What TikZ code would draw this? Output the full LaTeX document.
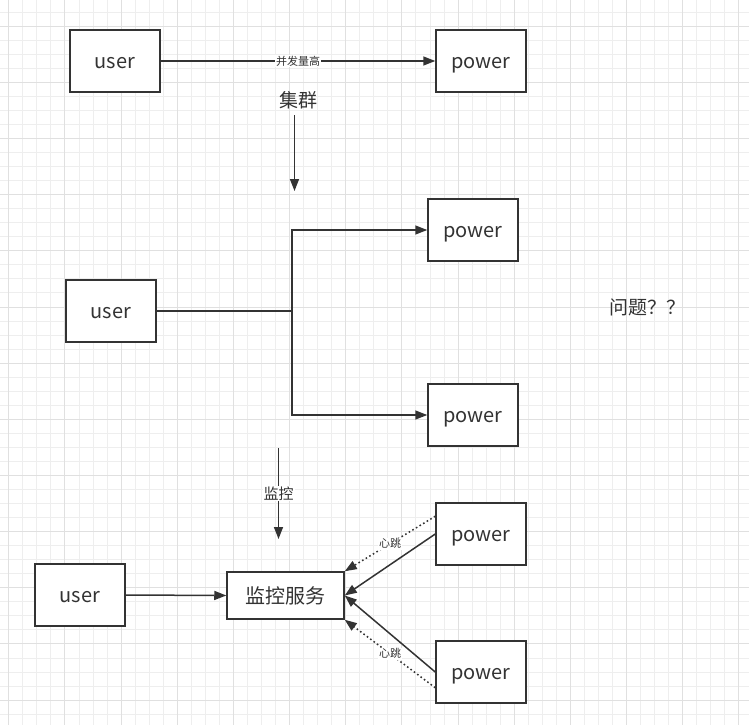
\documentclass[tikz,border=0pt]{standalone}
\usepackage{fontspec}
\setmainfont{Noto Sans CJK SC}
\usetikzlibrary{arrows.meta}
\definecolor{ink}{HTML}{333333}
\definecolor{gridminor}{HTML}{EEEEEE}
\definecolor{gridmajor}{HTML}{E0E0E0}
\tikzset{
  box/.style={draw=ink, line width=1.5pt, fill=white, text=ink, inner sep=0pt,
    minimum width=90pt, minimum height=62pt, text height=15pt, text depth=0pt,
    font=\fontsize{20}{24}\selectfont},
  wire/.style={draw=ink, line width=1.5pt},
  arr/.style={wire, -{Triangle[length=12pt,width=9pt]}},
  dotarr/.style={draw=ink, line width=1.5pt, dash pattern=on 1.6pt off 2.6pt,
    -{Triangle[length=12pt,width=9pt]}},
  edgelabel/.style={fill=white, text=ink, inner sep=1pt},
  plain/.style={text=ink, inner sep=0pt},
}
\begin{document}
\begin{tikzpicture}[x=1pt,y=-1pt]
  % canvas and background grid
  \fill[white] (0,0) rectangle (749,725);
  \useasboundingbox (0,0) rectangle (749,725);
  \foreach \i in {0,...,53} {
    \pgfmathsetmacro\gx{8.7+14.04*\i}
    \draw[gridminor, line width=0.8pt] (\gx,0) -- (\gx,725);
  }
  \foreach \j in {0,...,50} {
    \pgfmathsetmacro\gy{12.06+14.04*\j}
    \draw[gridminor, line width=0.8pt] (0,\gy) -- (749,\gy);
  }
  \foreach \i in {0,...,13} {
    \pgfmathsetmacro\gx{8.7+56.16*\i}
    \draw[gridmajor, line width=0.8pt] (\gx,0) -- (\gx,725);
  }
  \foreach \j in {0,...,12} {
    \pgfmathsetmacro\gy{26.1+56.16*\j}
    \draw[gridmajor, line width=0.8pt] (0,\gy) -- (749,\gy);
  }

  % single server
  \node[box] (user1) at (115,61) {user};
  \node[box] (power1) at (481,61) {power};
  \draw[arr] (user1.east) -- node[edgelabel, font=\fontsize{11}{12}\selectfont] (lbl1) {并发量高} (power1.west);

  % cluster
  \node[plain, font=\fontsize{19}{22}\selectfont] (cluster) at (298,100) {集群};
  \coordinate (c1top) at (294.5,115);
  \coordinate (c1bot) at (294.5,191);
  \draw[arr] (c1top) -- (c1bot);

  \node[box] (user2) at (111,311) {user};
  \node[box] (power2) at (473,230) {power};
  \node[box] (power3) at (473,415) {power};
  \coordinate (split) at (292,311);
  \draw[wire] (user2.east) -- (split);
  \draw[arr] (split) |- (power2.west);
  \draw[arr] (split) |- (power3.west);

  \node[plain, font=\fontsize{19}{22}\selectfont] (question) at (647,307) {问题？？};

  % monitoring
  \coordinate (m1top) at (278.5,448);
  \coordinate (m1bot) at (278.5,539);
  \draw[arr] (m1top) -- node[edgelabel, font=\fontsize{15}{18}\selectfont] (lbl2) {监控} (m1bot);

  \node[box] (user3) at (80,595) {user};
  \node[box, minimum width=117pt, minimum height=47pt, text height=16pt,
    font=\fontsize{20}{24}\selectfont] (monitor) at (285.5,595.5) {监控服务};
  \node[box] (power4) at (481,534) {power};
  \node[box] (power5) at (481,672) {power};

  \draw[arr] (user3.east) -- (monitor.west);
  \draw[arr] (power4.west) -- (monitor.east);
  \draw[arr] (power5.west) -- (monitor.east);
  \draw[dotarr] ([yshift=-14pt]power4.north west) -- node[edgelabel, font=\fontsize{11}{12}\selectfont] (hb1) {心跳} (monitor.north east);
  \draw[dotarr] ([yshift=16pt]power5.south west) -- node[edgelabel, font=\fontsize{11}{12}\selectfont] (hb2) {心跳} (monitor.south east);
\end{tikzpicture}
\end{document}
